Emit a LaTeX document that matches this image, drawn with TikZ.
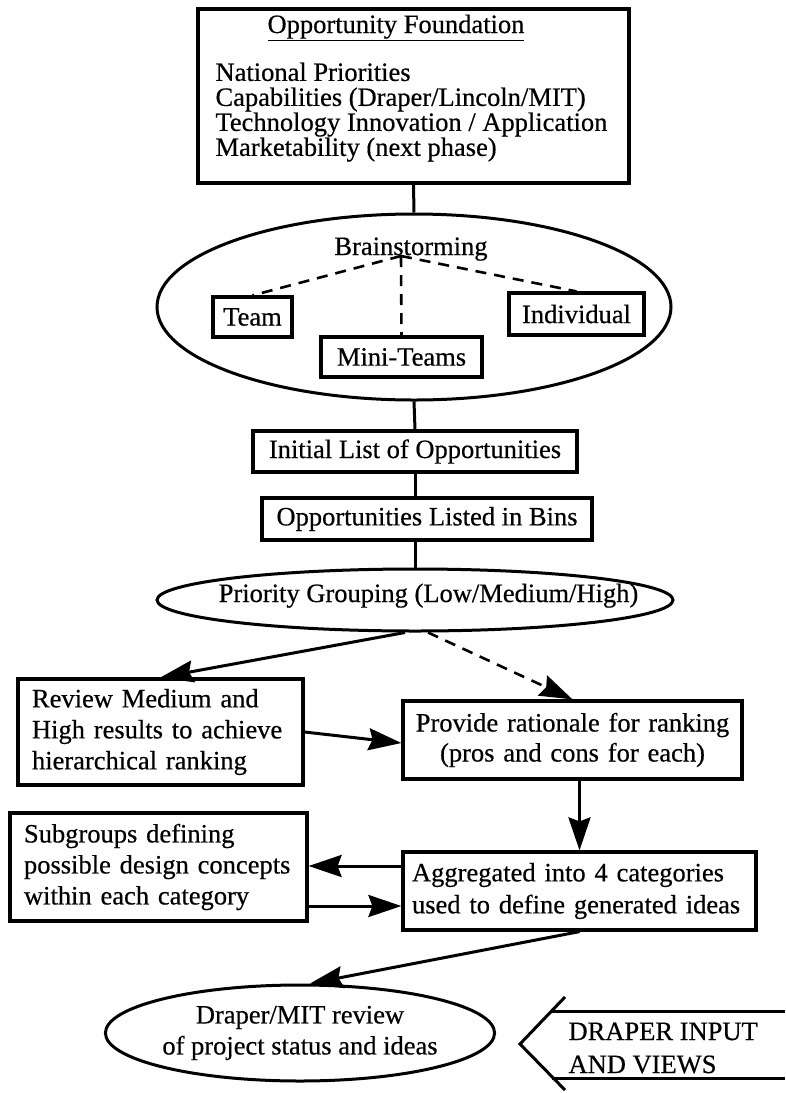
\documentclass[tikz,border=0pt]{standalone}
\usepackage{fontspec}
\setmainfont{Liberation Serif}[FakeBold=0.5]
\usetikzlibrary{arrows.meta,shapes.geometric}
\newcommand\fz{\fontsize{26.5}{31}\selectfont}
\tikzset{%
  >={Stealth[length=33pt,width=22pt,inset=4pt]}, % big filled heads
  every node/.style={font=\fz},
  box/.style={draw,line width=3.2pt,inner sep=0pt},
  oval/.style={draw,ellipse,line width=3pt,inner sep=0pt},
  link/.style={line width=3pt},
  dlink/.style={line width=2.6pt,dash pattern=on 11pt off 8pt}
}

\begin{document}
\begin{tikzpicture}[x=1pt,y=-1pt] % pixel grid, y downwards
\useasboundingbox (0,0) rectangle (785,1093);

% opportunity foundation
\node[box,minimum width=431pt,minimum height=174pt] (fnd) at (413.5,96) {};
\node[anchor=base] (fndtitle) at (396,33) {\underline{Opportunity Foundation}};
\node[anchor=north west,align=left,font=\fontsize{26.5}{25}\selectfont] (fndlist) at (212,59)
  {National Priorities\\Capabilities (Draper/Lincoln/MIT)\\Technology Innovation / Application\\Marketability (next phase)};

% brainstorming
\node[oval,minimum width=514pt,minimum height=186pt] (brain) at (414,307) {};
\node[anchor=base] (braintxt) at (411,255) {Brainstorming};
\coordinate (hub) at (401,256);
\node[box,minimum width=79pt,minimum height=40pt] (team) at (252.5,317) {Team};
\node[box,minimum width=161pt,minimum height=40pt] (mini) at (401.5,357) {Mini-Teams};
\node[box,minimum width=135pt,minimum height=42pt] (indiv) at (576.5,314) {Individual};
\draw[dlink] (hub) -- (team.north);
\draw[dlink] (hub) -- (mini.north);
\draw[dlink] (hub) -- (indiv.north);

% lists and grouping
\node[box,minimum width=324pt,minimum height=41pt] (init) at (415,451.5) {Initial List of Opportunities};
\node[box,minimum width=330pt,minimum height=42pt] (bins) at (427,519) {Opportunities Listed in Bins};
\node[oval,minimum width=516pt,minimum height=62pt] (prio) at (415,600) {};
\node[anchor=base] (priotxt) at (428.5,602) {Priority Grouping (Low/Medium/High)};

\draw[link] (fnd.south) -- (brain.north);
\draw[link] (brain.south) -- (init.north);
\draw[link] (init.south) -- (init.south |- bins.north);
\draw[link] (prio.north |- bins.south) -- (prio.north);

% ranking
\node[box,text width=257pt,inner xsep=14pt,minimum height=106pt,align=left] (review) at (160.5,732)
  {Review Medium and\\High results to achieve\\hierarchical ranking};
\node[box,text width=329pt,inner xsep=5pt,minimum height=78pt,align=center,font=\fontsize{26.5}{30}\selectfont] (prov) at (572.5,740)
  {Provide rationale for ranking\\(pros and cons for each)};
\draw[link,->] ([xshift=-10pt]prio.south) -- (review.north);
\draw[dlink,->] ([xshift=13pt]prio.south) -- (prov.north);
\draw[link,->] (review.east) -- ([yshift=-3pt]prov.west);

% categories
\node[box,text width=335pt,inner xsep=9pt,minimum height=78pt,align=left,font=\fontsize{26.5}{32}\selectfont] (agg) at (579.5,891)
  {Aggregated into 4 categories\\used to define generated ideas};
\node[box,text width=269pt,inner xsep=14pt,minimum height=108pt,align=left] (sub) at (158.5,867)
  {Subgroups defining\\possible design concepts\\within each category};
\draw[link,->] (agg.north |- prov.south) -- (agg.north);
\coordinate (aggup) at ([yshift=25pt]agg.west);
\coordinate (aggdn) at ([yshift=-15pt]agg.west);
\draw[link,->] (aggup) -- (aggup -| sub.east);
\draw[link,->] (aggdn -| sub.east) -- (aggdn);

% review meeting
\node[oval,minimum width=360pt,minimum height=96pt,align=center] (mitrev) at (300,1033)
  {Draper/MIT review\\of project status and ideas};
\draw[link,->] (agg.south) -- ([xshift=10pt]mitrev.north);

% input arrow
\coordinate (inptip) at (520,1044);
\draw[link] (565,997) -- (inptip) -- (565,1090);
\draw[link] (552,1011) -- (785,1011);
\draw[link] (552,1078) -- (785,1078);
\node[anchor=north west,align=left,font=\fontsize{26.5}{33}\selectfont] (inptxt) at (565,1019)
  {DRAPER INPUT\\AND VIEWS};
\end{tikzpicture}
\end{document}
